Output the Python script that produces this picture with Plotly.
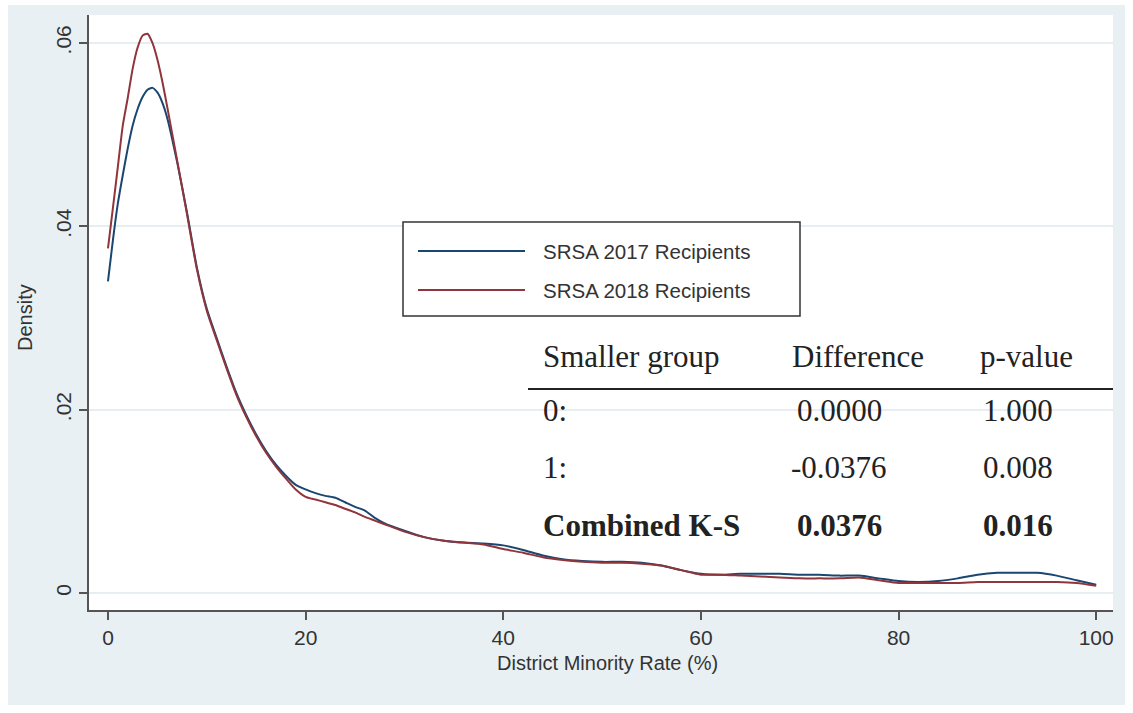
import plotly.graph_objects as go

# ---------------- data ----------------
x_rate = [0, 0.5, 1, 1.5, 2, 2.5, 3, 3.5, 4, 4.5, 5, 5.5, 6, 7, 8, 9, 10, 11, 12, 13,
          14, 15, 16, 17, 18, 19, 20, 21, 22, 23, 24, 25, 26, 27, 28, 30, 32, 34, 36,
          38, 40, 42, 44, 46, 48, 50, 52, 54, 56, 58, 60, 62, 64, 66, 68, 70, 72, 74,
          76, 78, 80, 82, 84, 86, 88, 90, 92, 94, 96, 98, 100]

density_2017 = [0.0340, 0.0385, 0.0425, 0.0456, 0.0485, 0.0510, 0.0528, 0.0541, 0.0549, 0.0551,
                0.0546, 0.0535, 0.0518, 0.0470, 0.0415, 0.0355, 0.0310, 0.0278, 0.0247, 0.0218,
                0.0194, 0.0173, 0.0155, 0.0140, 0.0128, 0.0118, 0.0113, 0.0109, 0.0106, 0.0104,
                0.0099, 0.0094, 0.0090, 0.0082, 0.0076, 0.0068, 0.0061, 0.0057, 0.0055, 0.0054,
                0.0052, 0.0047, 0.0041, 0.0037, 0.0035, 0.0034, 0.0034, 0.0033, 0.0030, 0.0025,
                0.0021, 0.0020, 0.0021, 0.0021, 0.0021, 0.0020, 0.0020, 0.0019, 0.0019, 0.0016,
                0.0013, 0.0012, 0.0013, 0.0016, 0.0020, 0.0022, 0.0022, 0.0022, 0.0019, 0.0014,
                0.0009]

density_2018 = [0.0376, 0.0420, 0.0465, 0.0510, 0.0540, 0.0572, 0.0595, 0.0608, 0.0610, 0.0600,
                0.0582, 0.0558, 0.0530, 0.0472, 0.0413, 0.0353, 0.0308, 0.0276, 0.0245, 0.0216,
                0.0192, 0.0171, 0.0153, 0.0138, 0.0125, 0.0113, 0.0105, 0.0102, 0.0099, 0.0096,
                0.0092, 0.0088, 0.0083, 0.0079, 0.0075, 0.0067, 0.0061, 0.0057, 0.0055, 0.0053,
                0.0048, 0.0044, 0.0039, 0.0036, 0.0034, 0.0033, 0.0033, 0.0032, 0.0030, 0.0025,
                0.0020, 0.0020, 0.0019, 0.0018, 0.0017, 0.0016, 0.0016, 0.0016, 0.0017, 0.0014,
                0.0011, 0.0011, 0.0011, 0.0011, 0.0012, 0.0012, 0.0012, 0.0012, 0.0012, 0.0011,
                0.0008]

series_names = ["SRSA 2017 Recipients", "SRSA 2018 Recipients"]
series_colors = ["#1a476f", "#90353b"]

x_ticks = [0, 20, 40, 60, 80, 100]
y_ticks = [0, 0.02, 0.04, 0.06]
y_tick_labels = ["0", ".02", ".04", ".06"]

ks_header = ["Smaller group", "Difference", "p-value"]
ks_group = ["0:", "1:", "Combined K-S"]
ks_diff = ["0.0000", "-0.0376", "0.0376"]
ks_pval = ["1.000", "0.008", "0.016"]

# ---------------- layout helpers (pixel -> paper) ----------------
W, H = 1133, 713
L, R, T, B = 89, 1113, 15, 610


def xp(px):
    return (px - L) / (R - L)


def yp(py):
    return (B - py) / (B - T)


SANS = "Liberation Sans, Arial, sans-serif"
SERIF = "Liberation Serif, Times New Roman, serif"
AXC = "#555555"

fig = go.Figure()
for ys, name, col in zip([density_2017, density_2018], series_names, series_colors):
    fig.add_trace(go.Scatter(x=x_rate, y=ys, mode="lines", name=name,
                             line=dict(color=col, width=2, shape="spline", smoothing=0.6),
                             showlegend=False))

shapes = []
# white page edges outside the Stata graph region
for x0, y0, x1, y1 in [(0, 0, W, 5), (0, 0, 8, H), (1125, 0, W, H), (0, 705, W, H)]:
    shapes.append(dict(type="rect", xref="paper", yref="paper", layer="below",
                       x0=xp(x0), x1=xp(x1), y0=yp(y1), y1=yp(y0),
                       fillcolor="white", line=dict(width=0)))
# legend box
shapes.append(dict(type="rect", xref="paper", yref="paper",
                   x0=xp(403), x1=xp(800), y0=yp(316), y1=yp(222),
                   fillcolor="white", line=dict(color="#333333", width=1.5)))
annotations = []
for i, (name, col) in enumerate(zip(series_names, series_colors)):
    ly = [251, 290][i]
    shapes.append(dict(type="line", xref="paper", yref="paper",
                       x0=xp(418), x1=xp(525), y0=yp(ly), y1=yp(ly),
                       line=dict(color=col, width=2)))
    annotations.append(dict(xref="paper", yref="paper", x=xp(541), y=yp(ly),
                            xanchor="left", yanchor="middle", showarrow=False,
                            text=name, font=dict(family=SANS, size=20.5, color="#333333")))

# K-S table
shapes.append(dict(type="line", xref="paper", yref="paper",
                   x0=xp(528), x1=xp(1113), y0=yp(389), y1=yp(389),
                   line=dict(color="#222222", width=2)))
hx = [541, 790, 978]
for t, x in zip(ks_header, hx):
    annotations.append(dict(xref="paper", yref="paper", x=xp(x), y=yp(356),
                            xanchor="left", yanchor="middle", showarrow=False,
                            text=t, font=dict(family=SERIF, size=31, color="#222222")))
row_y = [410, 467, 525]
for i in range(3):
    bold = i == 2
    fmt = (lambda s: "<b>" + s + "</b>") if bold else (lambda s: s)
    annotations.append(dict(xref="paper", yref="paper", x=xp(541), y=yp(row_y[i]),
                            xanchor="left", yanchor="middle", showarrow=False,
                            text=fmt(ks_group[i]), font=dict(family=SERIF, size=31, color="#222222")))
    annotations.append(dict(xref="paper", yref="paper", x=xp(839), y=yp(row_y[i]),
                            xanchor="center", yanchor="middle", showarrow=False,
                            text=fmt(ks_diff[i]), font=dict(family=SERIF, size=31, color="#222222")))
    annotations.append(dict(xref="paper", yref="paper", x=xp(1018), y=yp(row_y[i]),
                            xanchor="center", yanchor="middle", showarrow=False,
                            text=fmt(ks_pval[i]), font=dict(family=SERIF, size=31, color="#222222")))

# axis titles
annotations.append(dict(xref="paper", yref="paper", x=xp(607), y=yp(663),
                        xanchor="center", yanchor="middle", showarrow=False,
                        text="District Minority Rate (%)",
                        font=dict(family=SANS, size=20, color="#333333")))
annotations.append(dict(xref="paper", yref="paper", x=xp(25), y=yp(318),
                        xanchor="center", yanchor="middle", showarrow=False, textangle=-90,
                        text="Density", font=dict(family=SANS, size=20, color="#333333")))

fig.update_layout(
    width=W, height=H,
    margin=dict(l=L, r=W - R, t=T, b=H - B, pad=0),
    paper_bgcolor="#e9f0f3", plot_bgcolor="white",
    shapes=shapes, annotations=annotations,
    showlegend=False,
)
fig.update_xaxes(range=[-1.92, 101.7], tickvals=x_ticks, showgrid=False, zeroline=False,
                 showline=True, linecolor=AXC, linewidth=2, ticks="outside", ticklen=8,
                 tickwidth=2, tickcolor=AXC, tickfont=dict(family=SANS, size=21, color="#333333"))
fig.update_yaxes(range=[-0.00185, 0.06305], tickvals=y_ticks, ticktext=y_tick_labels,
                 tickangle=-90, showgrid=True, gridcolor="#e6eef1", gridwidth=1.5, zeroline=False,
                 showline=True, linecolor=AXC, linewidth=2, ticks="outside", ticklen=8,
                 tickwidth=2, tickcolor=AXC, tickfont=dict(family=SANS, size=21, color="#333333"))

fig.write_html("out.html")
